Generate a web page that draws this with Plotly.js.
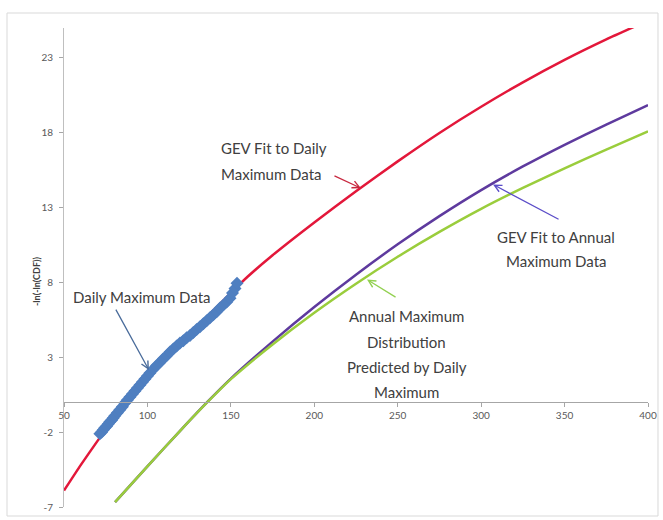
<!DOCTYPE html>
<html>
<head>
<meta charset="utf-8">
<script src="https://cdn.plot.ly/plotly-3.0.1.min.js"></script>
<style>html,body{margin:0;padding:0;background:#fff;}#chart{width:663px;height:520px;}</style>
</head>
<body>
<div id="chart"></div>
<script>
// GEV fit to daily maximum data (red)
const dailyFitX = [50, 60, 70, 80, 90, 100, 110, 120, 130, 140, 150, 160, 175, 200, 225, 250, 275, 300, 325, 350, 375, 394];
const dailyFitY = [-5.9, -4.2, -2.6, -1.1, 0.32, 1.65, 2.88, 4.02, 5.1, 6.18, 7.3, 8.38, 9.82, 12.01, 14.09, 16.09, 17.99, 19.74, 21.37, 22.87, 24.24, 25.2];

// Daily maximum data (blue markers)
const dataX = [71.5, 72.5, 73.5, 74.5, 75.5, 76.5, 77.5, 78.5, 79.5, 80.5, 82, 83.5, 85, 86.5, 88, 89.5, 91, 92.5, 94, 95.5,
  97, 98.5, 100, 101.5, 103.5, 105.5, 107.5, 109.5, 111.5, 113.5, 115.5, 117.5, 119.5, 121.5, 123.5, 125.5, 127.5, 129.5,
  131.5, 133.5, 135.5, 137.5, 139.5, 141.5, 143.5, 145.5, 147.5, 149.5, 151, 152.5, 153.7];
const dataY = [-2.1, -2.0, -1.85, -1.7, -1.6, -1.45, -1.3, -1.2, -1.05, -0.9, -0.7, -0.5, -0.3, -0.05, 0.15, 0.35, 0.55, 0.75, 0.95, 1.15,
  1.35, 1.55, 1.75, 1.95, 2.2, 2.45, 2.65, 2.9, 3.1, 3.35, 3.55, 3.75, 3.95, 4.1, 4.3, 4.45, 4.65, 4.85,
  5.05, 5.25, 5.45, 5.65, 5.85, 6.05, 6.3, 6.5, 6.7, 6.95, 7.3, 7.6, 7.95];

// GEV fit to annual maximum data (purple)
const annualFitX = [80.6, 100, 120, 135.5, 150, 175, 200, 225, 250, 275, 300, 325, 350, 375, 400];
const annualFitY = [-6.68, -4.28, -1.86, -0.03, 1.58, 4.05, 6.36, 8.52, 10.55, 12.43, 14.17, 15.75, 17.2, 18.55, 19.85];

// Annual maximum distribution predicted by daily maximum (green)
const predictedX = [80.6, 100, 120, 135.5, 150, 175, 200, 225, 250, 275, 300, 325, 350, 375, 400];
const predictedY = [-6.68, -4.28, -1.86, -0.05, 1.54, 3.86, 5.98, 7.92, 9.72, 11.38, 12.92, 14.32, 15.63, 16.88, 18.1];

const xTicks = [50, 100, 150, 200, 250, 300, 350, 400];
const xTickText = ['50', '100', '150', '200', '250', '300', '350', '400'];
const yTicks = [-7, -2, 3, 8, 13, 18, 23];
const yTickText = ['-7', '-2', '3', '8', '13', '18', '23'];

const FONT = 'Lato, "Open Sans", sans-serif';
const TXT = '#404040';

const traces = [
  {x: dailyFitX, y: dailyFitY, mode: 'lines', line: {color: '#E3173A', width: 2.5, shape: 'spline', smoothing: 0.5}, hoverinfo: 'skip'},
  {x: dataX, y: dataY, mode: 'markers', marker: {symbol: 'diamond', size: 10, color: '#4F7FC0'}, hoverinfo: 'skip'},
  {x: annualFitX, y: annualFitY, mode: 'lines', line: {color: '#5E3A9E', width: 2.5, shape: 'spline', smoothing: 0.5}, hoverinfo: 'skip'},
  {x: predictedX, y: predictedY, mode: 'lines', line: {color: '#9ACD3C', width: 2.5, shape: 'spline', smoothing: 0.5}, hoverinfo: 'skip'}
];

function txt(t, x, y, xanchor) {
  return {text: t, xref: 'paper', yref: 'paper', x: x, y: y, xanchor: xanchor, yanchor: 'middle',
    showarrow: false, font: {family: FONT, size: 15, color: TXT}};
}
function arrow(x, y, ax, ay, color) {
  return {text: '', x: x, y: y, ax: ax, ay: ay, xref: 'x', yref: 'y', axref: 'x', ayref: 'y',
    showarrow: true, arrowhead: 5, arrowsize: 1.1, arrowwidth: 1.3, arrowcolor: color, standoff: 0, startstandoff: 0};
}

const layout = {
  width: 663, height: 520,
  margin: {l: 64, r: 15, t: 28, b: 13},
  paper_bgcolor: '#ffffff', plot_bgcolor: '#ffffff',
  showlegend: false,
  font: {family: FONT},
  xaxis: {
    range: [50, 400], tickvals: xTicks, ticktext: xTickText,
    anchor: 'free', position: 0.21875,
    showline: true, linecolor: '#A6A6A6', linewidth: 1,
    ticks: 'outside', ticklen: 4, tickcolor: '#A6A6A6',
    showgrid: false, zeroline: false,
    tickfont: {family: FONT, size: 10, color: '#595959'}
  },
  yaxis: {
    range: [-7, 25], tickvals: yTicks, ticktext: yTickText,
    showline: true, linecolor: '#BFBFBF', linewidth: 1,
    ticks: 'outside', ticklen: 4, tickcolor: '#A6A6A6',
    showgrid: false, zeroline: false,
    tickfont: {family: FONT, size: 10, color: '#595959'},
    ticklabelstandoff: 4
  },
  shapes: [
    {type: 'rect', xref: 'paper', yref: 'paper', x0: -0.0976, x1: 1.0171, y0: -0.0188, y1: 1.0313,
      line: {color: '#D9D9D9', width: 1}, fillcolor: 'rgba(0,0,0,0)', layer: 'below'}
  ],
  annotations: [
    {text: '<b>-ln(-ln(CDF))</b>', xref: 'paper', yref: 'paper', x: -0.046, y: 0.47, textangle: -90,
      showarrow: false, xanchor: 'center', yanchor: 'middle', font: {family: FONT, size: 9, color: TXT}},
    txt('GEV Fit to Daily', 0.2654, 0.7495, 'left'),
    txt('Maximum Data', 0.2654, 0.6952, 'left'),
    txt('Daily Maximum Data', 0.012, 0.4384, 'left'),
    txt('GEV Fit to Annual', 0.8425, 0.5637, 'center'),
    txt('Maximum Data', 0.8425, 0.5136, 'center'),
    txt('Annual Maximum', 0.5873, 0.3987, 'center'),
    txt('Distribution', 0.5873, 0.3445, 'center'),
    txt('Predicted by Daily', 0.5873, 0.2923, 'center'),
    txt('Maximum', 0.5873, 0.2401, 'center'),
    arrow(228.0, 14.3, 211.2, 15.17, '#C8283F'),
    arrow(100.9, 2.15, 80.6, 6.29, '#4A6C9B'),
    arrow(307.1, 14.55, 347.3, 12.17, '#5B4DC8'),
    arrow(231.6, 8.2, 249.6, 6.96, '#92D050')
  ]
};

Plotly.newPlot('chart', traces, layout, {staticPlot: true, displayModeBar: false});
</script>
</body>
</html>
